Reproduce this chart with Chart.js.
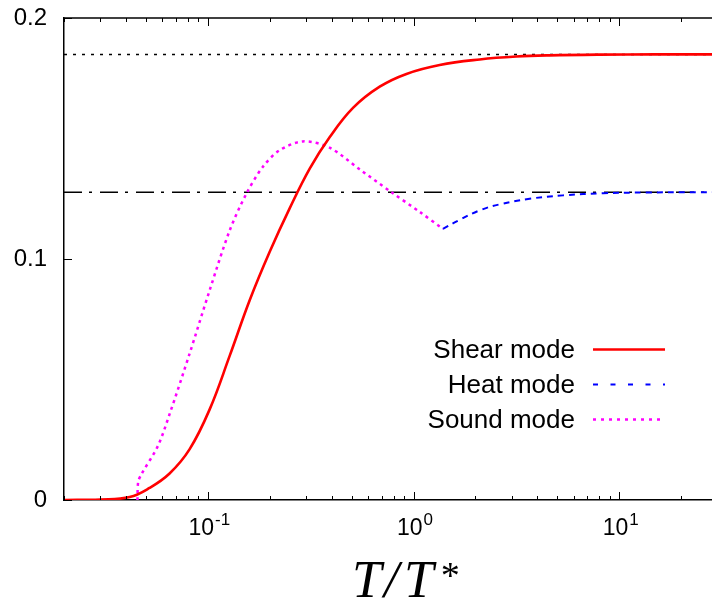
<!DOCTYPE html>
<html><head><meta charset="utf-8">
<script src="https://cdn.jsdelivr.net/npm/chart.js@4/dist/chart.umd.min.js"></script>
<style>
html,body{margin:0;padding:0;overflow:hidden;background:#fff;width:712px;height:607px}
#wrap{position:relative;width:712px;height:607px;overflow:hidden}
canvas{display:block}
</style></head>
<body><div id="wrap"><canvas id="c" width="763" height="607"></canvas></div>
<script>
// ---- data ----
const seriesLabels = ['Shear mode', 'Heat mode', 'Sound mode'];

const shearX = [0.02, 0.03, 0.0417, 0.0521, 0.0652, 0.0815, 0.102, 0.128, 0.160, 0.200, 0.250, 0.313, 0.391, 0.508, 0.685, 0.924, 1.34, 2.10, 3.16, 4.59, 8, 15, 50];
const shearY = [0.0000, 0.0002, 0.0012, 0.0050, 0.0110, 0.0210, 0.0375, 0.0600, 0.0830, 0.1030, 0.1210, 0.1375, 0.1505, 0.1627, 0.1715, 0.1768, 0.1805, 0.1828, 0.1840, 0.1845, 0.1848, 0.1849, 0.1849];

const soundX = [0.0455, 0.0459, 0.0475, 0.0572, 0.0652, 0.0815, 0.102, 0.1277, 0.154, 0.185, 0.223, 0.290, 0.391, 0.547, 0.781, 1.07, 1.39];
const soundY = [0.0000, 0.0076, 0.0106, 0.0224, 0.0356, 0.0606, 0.0869, 0.1118, 0.1271, 0.1382, 0.1451, 0.1488, 0.1462, 0.1372, 0.1277, 0.1196, 0.1125];

const heatX = [1.39, 1.68, 2.10, 2.63, 3.67, 5.33, 8.35, 13.6, 23.8, 50];
const heatY = [0.1125, 0.1163, 0.1202, 0.1227, 0.1250, 0.1264, 0.1273, 0.1276, 0.1277, 0.1277];

const shearLimit = 0.1849;
const heatLimit = 0.1277;

const xRange = [0.02, 50];
const yTicks = [0, 0.1, 0.2];
const xMajorTicks = [0.1, 1, 10];
const xMajorBase = ['10', '10', '10'];
const xMajorExp = ['-1', '0', '1'];
const xMinorTicks = [0.02,0.03,0.04,0.05,0.06,0.07,0.08,0.09,0.2,0.3,0.4,0.5,0.6,0.7,0.8,0.9,2,3,4,5,6,7,8,9,20,30,40,50];
const xTitleParts = ['T', '/', 'T', '*'];

const zip = (xs, ys) => xs.map((x, i) => ({x: x, y: ys[i]}));

const legendStyle = {
  'Shear mode': {color: '#ff0000', dash: [], width: 2.6},
  'Heat mode': {color: '#0000ff', dash: [5, 12.5], width: 2},
  'Sound mode': {color: '#ff00ff', dash: [3, 5], width: 2.5}
};

const decor = {
  id: 'decor',
  afterDraw(chart) {
    const ctx = chart.ctx;
    const a = chart.chartArea;
    const xs = chart.scales.x, ys = chart.scales.y;
    ctx.save();
    ctx.strokeStyle = '#000';
    // top border
    ctx.lineWidth = 1.5;
    ctx.beginPath(); ctx.moveTo(a.left, a.top); ctx.lineTo(a.right, a.top); ctx.stroke();
    // x ticks inward
    ctx.lineWidth = 1;
    const tick = (v, len) => {
      const px = Math.round(xs.getPixelForValue(v)) + 0.5;
      ctx.beginPath();
      ctx.moveTo(px, a.bottom); ctx.lineTo(px, a.bottom - len);
      ctx.moveTo(px, a.top); ctx.lineTo(px, a.top + len);
      ctx.stroke();
    };
    xMinorTicks.forEach(v => tick(v, 4));
    xMajorTicks.forEach(v => tick(v, 8));
    yTicks.forEach(v => {
      const py = Math.round(ys.getPixelForValue(v)) + 0.5;
      ctx.beginPath(); ctx.moveTo(a.left, py); ctx.lineTo(a.left + 8, py); ctx.stroke();
    });
    // x tick labels with superscripts
    ctx.fillStyle = '#000';
    ctx.textBaseline = 'alphabetic';
    ctx.textAlign = 'left';
    const fBase = '23px "Liberation Sans", Arial, sans-serif';
    const fExp = '17px "Liberation Sans", Arial, sans-serif';
    xMajorTicks.forEach((v, i) => {
      const px = xs.getPixelForValue(v);
      ctx.font = fBase;
      const wb = ctx.measureText(xMajorBase[i]).width;
      ctx.font = fExp;
      const we = ctx.measureText(xMajorExp[i]).width;
      const x0 = px - (wb + we) / 2 + 1;
      ctx.font = fBase;
      ctx.fillText(xMajorBase[i], x0, 535);
      ctx.font = fExp;
      ctx.fillText(xMajorExp[i], x0 + wb + 1, 525);
    });
    // x axis title (math italic, T/T^*)
    ctx.font = 'italic 53px "Liberation Serif", "DejaVu Serif", serif';
    ctx.textAlign = 'left';
    ctx.fillText(xTitleParts[0], 352, 597);
    ctx.fillText(xTitleParts[1], 384, 597);
    ctx.fillText(xTitleParts[2], 404, 597);
    ctx.font = 'italic 38px "Liberation Serif", "DejaVu Serif", serif';
    ctx.fillText(xTitleParts[3], 439, 588);
    // legend
    const rows = [349.5, 384.5, 419.5];
    ctx.font = '26px "Liberation Sans", Arial, sans-serif';
    ctx.textAlign = 'right';
    ctx.textBaseline = 'middle';
    seriesLabels.forEach((lab, i) => {
      const st = legendStyle[lab];
      ctx.fillStyle = '#000';
      ctx.fillText(lab, 575, rows[i] + 1);
      ctx.strokeStyle = st.color;
      ctx.lineWidth = st.width;
      ctx.setLineDash(st.dash);
      ctx.beginPath(); ctx.moveTo(593, rows[i]); ctx.lineTo(665, rows[i]); ctx.stroke();
      ctx.setLineDash([]);
    });
    ctx.restore();
  }
};

new Chart(document.getElementById('c'), {
  type: 'line',
  data: {
    datasets: [
      {label: seriesLabels[0], data: zip(shearX, shearY), borderColor: '#ff0000', borderWidth: 2.6, pointRadius: 0, tension: 0.4, fill: false},
      {label: seriesLabels[2], data: zip(soundX, soundY), borderColor: '#ff00ff', borderWidth: 2.5, borderDash: [3, 4], pointRadius: 0, tension: 0.3, fill: false},
      {label: seriesLabels[1], data: zip(heatX, heatY), borderColor: '#0000ff', borderWidth: 2, borderDash: [6, 5], pointRadius: 0, tension: 0.4, fill: false},
      {label: 'shear limit', data: zip(xRange, [shearLimit, shearLimit]), borderColor: '#000', borderWidth: 1.5, borderDash: [3, 6], pointRadius: 0, fill: false},
      {label: 'heat limit', data: zip(xRange, [heatLimit, heatLimit]), borderColor: '#000', borderWidth: 1.5, borderDash: [18, 7, 3, 8], pointRadius: 0, fill: false}
    ]
  },
  options: {
    responsive: false,
    animation: false,
    devicePixelRatio: 1,
    layout: {padding: {top: 18, left: 0, right: 0, bottom: 0}},
    plugins: {legend: {display: false}, tooltip: {enabled: false}},
    scales: {
      x: {
        type: 'logarithmic', min: xRange[0], max: xRange[1],
        grid: {display: false, drawTicks: false},
        border: {display: true, color: '#000', width: 1.5},
        ticks: {display: false},
        title: {display: false, text: 'T/T*'},
        afterFit(s) { s.height = 107; s.paddingLeft = 0; s.paddingRight = 0; }
      },
      y: {
        min: 0, max: 0.2,
        grid: {display: false, drawTicks: false},
        border: {display: true, color: '#000', width: 1.5},
        ticks: {stepSize: 0.1, color: '#000', padding: 17, font: {family: '"Liberation Sans", Arial, sans-serif', size: 24}, callback: v => (Math.abs(v) < 1e-9 ? '0' : (+v).toFixed(1))},
        afterFit(s) { s.width = 64; s.paddingTop = 0; s.paddingBottom = 0; }
      }
    }
  },
  plugins: [decor]
});
</script>
</body></html>
